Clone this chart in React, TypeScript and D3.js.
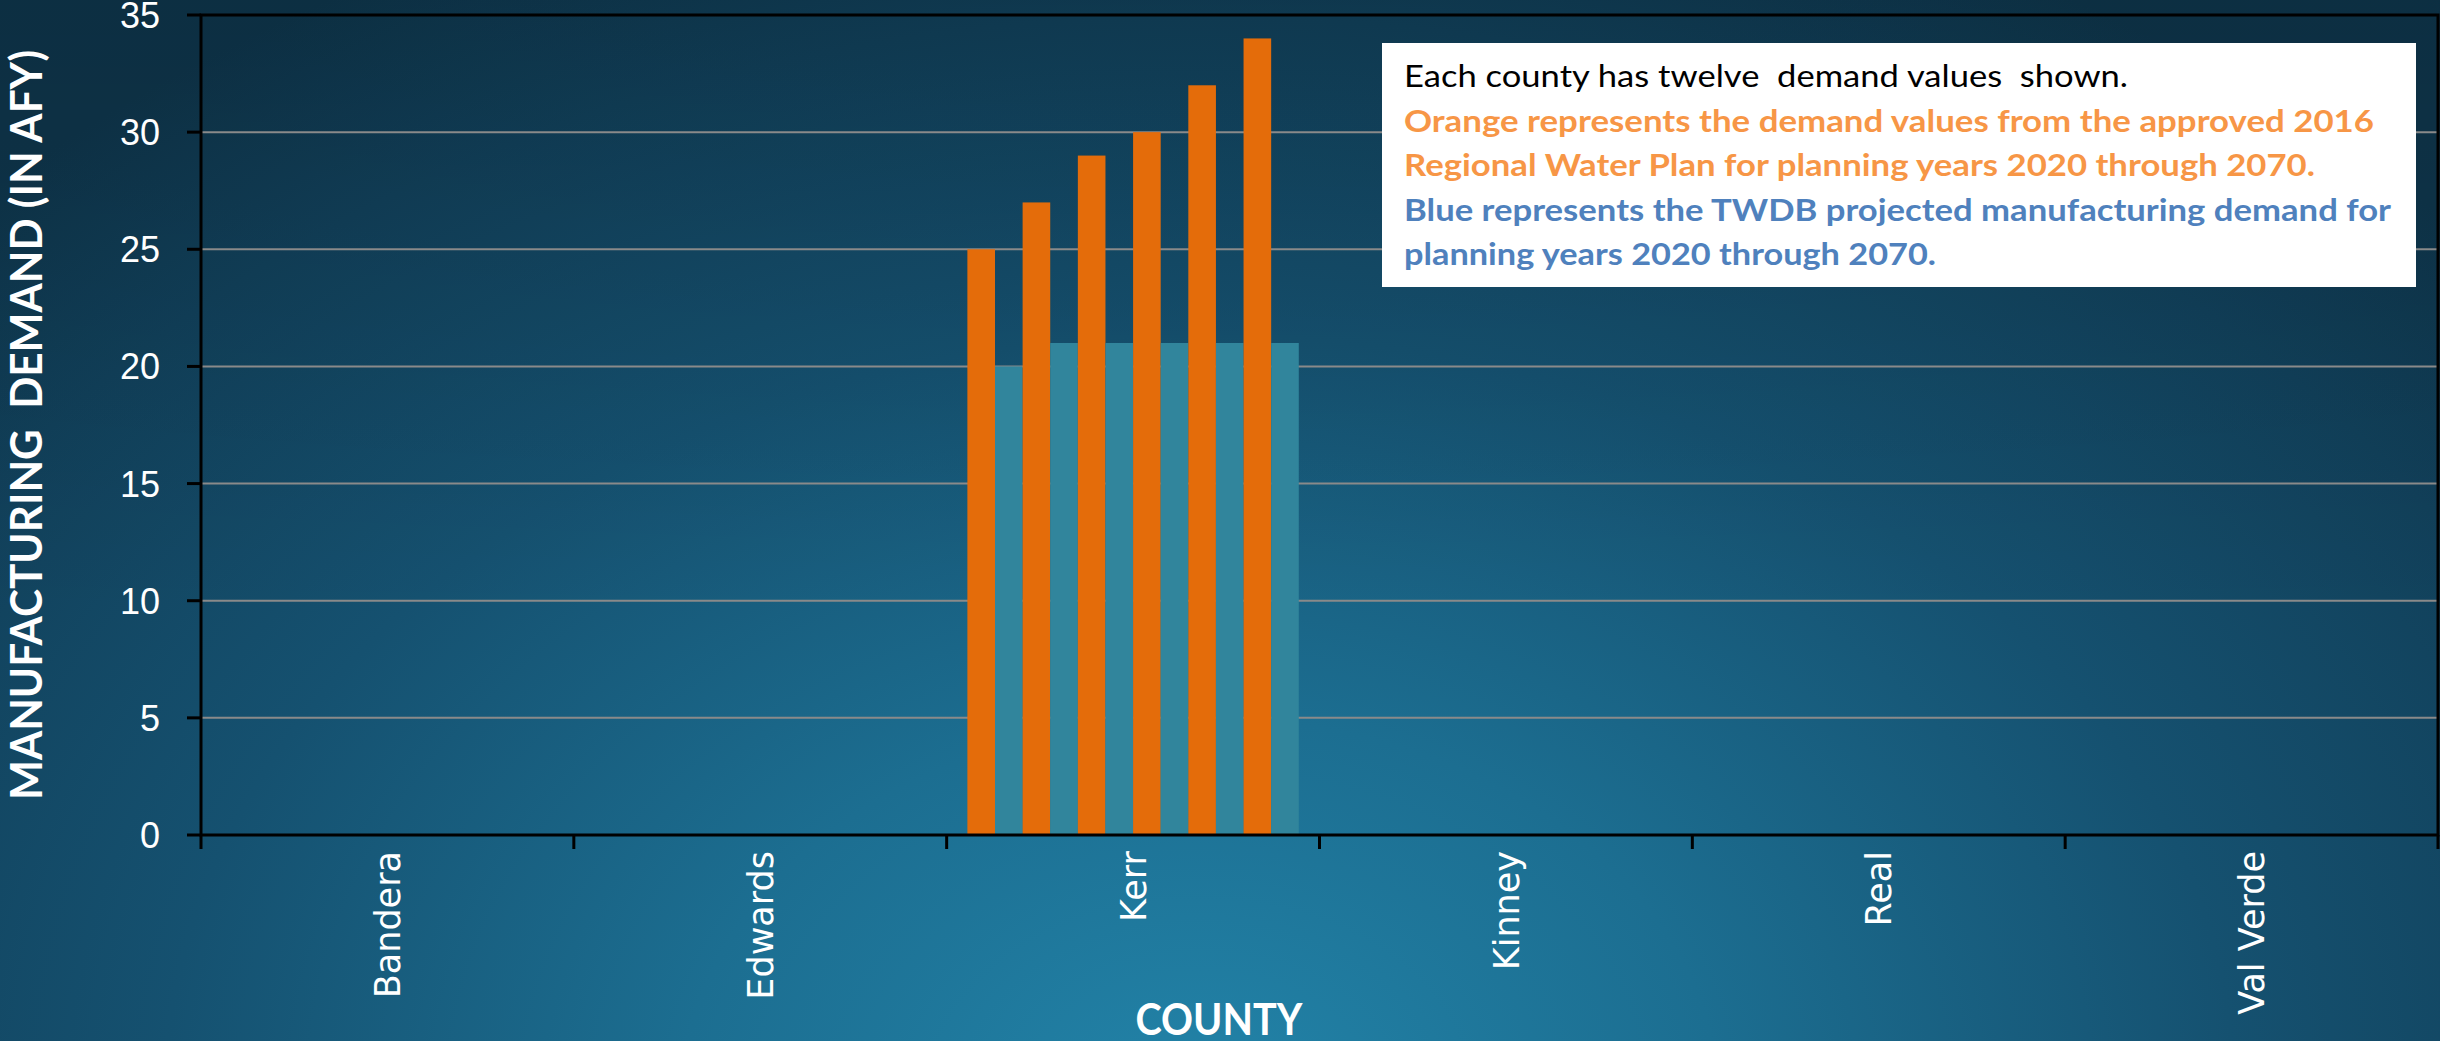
import React from "react";
import * as d3 from "d3";

const categories = ["Bandera", "Edwards", "Kerr", "Kinney", "Real", "Val Verde"];
const years = [2020, 2030, 2040, 2050, 2060, 2070];
// Orange: approved 2016 Regional Water Plan demand (AFY)
const plan2016: Record<string, number[]> = {
  Bandera: [0, 0, 0, 0, 0, 0],
  Edwards: [0, 0, 0, 0, 0, 0],
  Kerr: [25, 27, 29, 30, 32, 34],
  Kinney: [0, 0, 0, 0, 0, 0],
  Real: [0, 0, 0, 0, 0, 0],
  "Val Verde": [0, 0, 0, 0, 0, 0],
};
// Blue: TWDB projected manufacturing demand (AFY)
const twdb: Record<string, number[]> = {
  Bandera: [0, 0, 0, 0, 0, 0],
  Edwards: [0, 0, 0, 0, 0, 0],
  Kerr: [20, 21, 21, 21, 21, 21],
  Kinney: [0, 0, 0, 0, 0, 0],
  Real: [0, 0, 0, 0, 0, 0],
  "Val Verde": [0, 0, 0, 0, 0, 0],
};
const yTicks = [0, 5, 10, 15, 20, 25, 30, 35];
const legendLines = [
  { text: "Each county has twelve  demand values  shown.", color: "#000000", weight: 400, len: 724 },
  { text: "Orange represents the demand values from the approved 2016", color: "#F79646", weight: 700, len: 970 },
  { text: "Regional Water Plan for planning years 2020 through 2070.", color: "#F79646", weight: 700, len: 911 },
  { text: "Blue represents the TWDB projected manufacturing demand for", color: "#4F81BD", weight: 700, len: 987 },
  { text: "planning years 2020 through 2070.", color: "#4F81BD", weight: 700, len: 532 },
];

const W = 2440;
const H = 1041;
const M = { left: 201, right: 2438, top: 15, bottom: 835 };
const ORANGE = "#E46C0A";
const BLUE = "#31859C";

export default function App() {
  const x0 = d3.scaleBand<string>().domain(categories).range([M.left, M.right]).padding(0);
  const bw = x0.bandwidth();
  const groupW = (bw * 12) / 13.5;
  const keys: string[] = [];
  years.forEach((yr) => {
    keys.push(`o${yr}`);
    keys.push(`b${yr}`);
  });
  const x1 = d3.scaleBand<string>().domain(keys).range([0, groupW]).padding(0);
  const y = d3.scaleLinear().domain([0, 35]).range([M.bottom, M.top]);

  const bars: { x: number; y: number; w: number; h: number; c: string; k: string }[] = [];
  categories.forEach((cat) => {
    const gx = (x0(cat) as number) + (bw - groupW) / 2;
    years.forEach((yr, i) => {
      const ov = plan2016[cat][i];
      const bv = twdb[cat][i];
      bars.push({ x: gx + (x1(`o${yr}`) as number), y: y(ov), w: x1.bandwidth(), h: y(0) - y(ov), c: ORANGE, k: `${cat}o${yr}` });
      bars.push({ x: gx + (x1(`b${yr}`) as number), y: y(bv), w: x1.bandwidth(), h: y(0) - y(bv), c: BLUE, k: `${cat}b${yr}` });
    });
  });

  const xTickPos = categories.map((c) => x0(c) as number).concat([M.right]);

  return (
    <svg width={W} height={H} style={{ display: "block", position: "absolute", left: 0, top: 0 }}>
      <defs>
        <radialGradient id="bg" gradientUnits="userSpaceOnUse" cx={1200} cy={1100} r={1500}
          gradientTransform="translate(1200 1100) scale(1.15 0.85) translate(-1200 -1100)">
          <stop offset="0" stopColor="#2283a8" />
          <stop offset="0.3" stopColor="#1c6e91" />
          <stop offset="0.6" stopColor="#155170" />
          <stop offset="0.85" stopColor="#11405a" />
          <stop offset="1" stopColor="#0e354b" />
        </radialGradient>
        <linearGradient id="shade" x1="0" y1="0" x2="0" y2="1">
          <stop offset="0" stopColor="#000000" stopOpacity="0.12" />
          <stop offset="0.6" stopColor="#000000" stopOpacity="0" />
        </linearGradient>
      </defs>
      <rect x={0} y={0} width={W} height={H} fill="url(#bg)" />
      <rect x={0} y={0} width={W} height={H} fill="url(#shade)" />

      {/* gridlines */}
      {yTicks.filter((t) => t > 0 && t < 35).map((t) => (
        <line key={`g${t}`} x1={M.left} x2={M.right} y1={y(t)} y2={y(t)} stroke="#8a8a8a" strokeWidth={2} />
      ))}

      {/* bars */}
      {bars.filter((b) => b.h > 0).map((b) => (
        <rect key={b.k} x={b.x} y={b.y} width={b.w} height={b.h} fill={b.c} />
      ))}

      {/* plot border */}
      <rect x={M.left} y={M.top} width={M.right - M.left} height={M.bottom - M.top} fill="none" stroke="#000" strokeWidth={3} />

      {/* y ticks */}
      {yTicks.map((t) => (
        <g key={`yt${t}`}>
          <line x1={M.left - 14} x2={M.left} y1={y(t)} y2={y(t)} stroke="#000" strokeWidth={3} />
          <text x={160} y={y(t)} dy="0.36em" textAnchor="end" fill="#fff" fontFamily="Liberation Sans, Arial, sans-serif" fontSize={36}>
            {t}
          </text>
        </g>
      ))}

      {/* x ticks */}
      {xTickPos.map((p, i) => (
        <line key={`xt${i}`} x1={p} x2={p} y1={M.bottom} y2={M.bottom + 14} stroke="#000" strokeWidth={3} />
      ))}
      {categories.map((c) => (
        <text key={`xl${c}`} transform={`translate(${(x0(c) as number) + bw / 2},851) rotate(-90)`} dy="0.36em" textAnchor="end"
          fill="#fff" fontFamily="DejaVu Sans, Verdana, sans-serif" fontSize={35}>
          {c}
        </text>
      ))}

      {/* axis titles */}
      <text transform={`translate(42,${(M.top + M.bottom) / 2}) rotate(-90)`} textAnchor="middle" fill="#fff"
        fontFamily="Lato, sans-serif" fontWeight={700} fontSize={43} textLength={750} lengthAdjust="spacingAndGlyphs"
        style={{ whiteSpace: "pre" }}>
        MANUFACTURING  DEMAND (IN AFY)
      </text>
      <text x={1219} y={1035} textAnchor="middle" fill="#fff" fontFamily="Lato, sans-serif" fontWeight={700} fontSize={43}
        textLength={167} lengthAdjust="spacingAndGlyphs">
        COUNTY
      </text>

      {/* legend note box */}
      <rect x={1382} y={43} width={1034} height={244} fill="#ffffff" />
      {legendLines.map((l, i) => (
        <text key={`ll${i}`} x={1404} y={87 + i * 44.5} fill={l.color} fontFamily="Lato, sans-serif" fontWeight={l.weight}
          fontSize={31} textLength={l.len} lengthAdjust="spacingAndGlyphs" style={{ whiteSpace: "pre" }}>
          {l.text}
        </text>
      ))}
    </svg>
  );
}
